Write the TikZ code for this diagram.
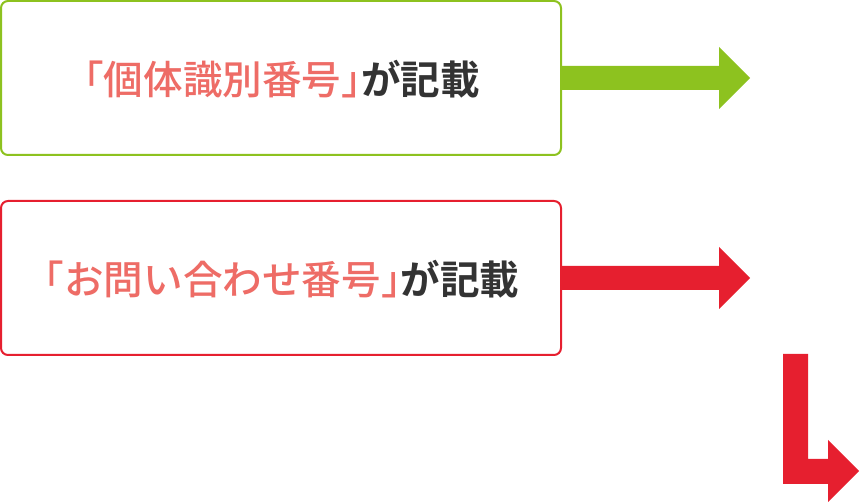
\documentclass[tikz,border=0pt]{standalone}
\usepackage{fontspec}
\newfontfamily\jpm{Noto Sans CJK JP Medium}[RawFeature=+halt]
\newfontfamily\jpb{Noto Sans CJK JP Bold}[RawFeature=+halt]
\definecolor{kgreen}{HTML}{8DC21F}
\definecolor{kred}{HTML}{E61F2F}
\definecolor{kpink}{HTML}{EE6C66}
\definecolor{kdark}{HTML}{333333}
\newcommand{\pinktxt}[1]{{\jpm\color{kpink}#1}}
\newcommand{\darktxt}[1]{{\jpb\color{kdark}#1}}
\begin{document}
\begin{tikzpicture}[x=1pt,y=-1pt,
  box/.style={draw=#1,line width=2pt,rounded corners=7pt,fill=white},
  lbl/.style={font=\fontsize{39.6}{44}\selectfont,inner sep=0pt}]
\useasboundingbox (0,0) rectangle (860,502);
% boxes
\draw[box=kgreen] (1,1) rectangle (561,155);
\coordinate (b1e) at (561,78);
\draw[box=kred] (1,201) rectangle (561,355);
\coordinate (b2e) at (561,278);
\node[lbl] (t1) at (282,79) {\pinktxt{「個体識別番号」}\darktxt{が記載}};
\node[lbl] (t2) at (282,279) {\pinktxt{「お問い合わせ番号」}\darktxt{が記載}};
% green arrow
\fill[kgreen] (b1e) ++(0,-12) -- (719,66) -- (719,47) -- (750,78) -- (719,109) -- (719,90) -- (561,90) -- cycle;
% red arrow
\fill[kred] (b2e) ++(0,-12) -- (719,266) -- (719,247) -- (750,278) -- (719,309) -- (719,290) -- (561,290) -- cycle;
% L arrow
\fill[kred] (783,354) -- (808,354) -- (808,459) -- (828,459) -- (828,440) -- (859,471) -- (828,502) -- (828,484) -- (783,484) -- cycle;
\end{tikzpicture}
\end{document}
